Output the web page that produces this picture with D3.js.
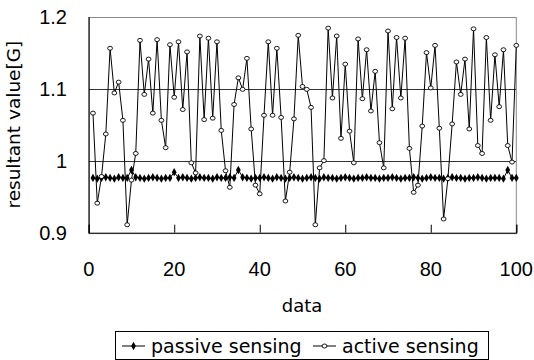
<!DOCTYPE html>
<html><head><meta charset="utf-8">
<script src="https://cdn.jsdelivr.net/npm/d3@7"></script>
<style>body{margin:0;background:#fff}svg{display:block}</style>
</head><body>
<script>
const xValues = d3.range(1, 101);
const activeSensing = [1.066,0.941,0.978,1.037,1.156,1.094,1.109,1.056,0.911,0.973,
1.010,1.167,1.092,1.141,1.066,1.168,1.056,1.018,1.161,1.088,
1.165,1.071,1.151,0.997,0.983,1.173,1.057,1.170,1.059,1.165,
1.042,0.986,0.963,1.078,1.115,1.099,1.142,1.044,0.966,0.954,
1.063,1.165,1.063,1.156,1.060,0.944,0.984,1.058,1.174,1.103,
1.099,1.074,0.911,0.990,1.000,1.184,1.087,1.173,1.031,1.134,
1.041,0.997,1.169,1.086,1.154,1.069,1.124,1.025,0.990,1.180,
1.072,1.171,1.087,1.170,1.017,0.956,0.966,1.048,1.150,1.101,
1.160,1.045,0.919,0.975,1.051,1.137,1.092,1.141,1.044,1.183,
1.021,1.010,1.171,1.056,1.147,1.075,1.154,1.021,0.998,1.160];
const passiveSensing = [0.976,0.975,0.976,0.977,0.976,0.975,0.977,0.976,0.976,0.987,
0.977,0.976,0.975,0.976,0.977,0.976,0.975,0.976,0.976,0.984,
0.976,0.977,0.976,0.975,0.976,0.977,0.976,0.976,0.975,0.977,
0.976,0.976,0.977,0.976,0.987,0.977,0.976,0.975,0.976,0.976,
0.977,0.976,0.975,0.977,0.976,0.975,0.976,0.977,0.976,0.975,
0.976,0.977,0.976,0.975,0.977,0.976,0.976,0.975,0.976,0.977,
0.976,0.975,0.976,0.976,0.977,0.976,0.976,0.975,0.976,0.976,
0.977,0.976,0.975,0.976,0.976,0.977,0.976,0.975,0.976,0.977,
0.976,0.976,0.975,0.976,0.977,0.976,0.976,0.975,0.976,0.976,
0.977,0.976,0.975,0.976,0.976,0.976,0.975,0.987,0.976,0.976];
const xTicks = [0,20,40,60,80,100];
const yTicks = [0.9,1.0,1.1,1.2];
const yTickLabels = ["0.9","1","1.1","1.2"];
const seriesNames = ["passive sensing","active sensing"];

const W=534,H=360;
const svg=d3.select("body").append("svg").attr("width",W).attr("height",H);
const x=d3.scaleLinear().domain([0,100]).range([88.7,516.3]);
const y=d3.scaleLinear().domain([0.9,1.2]).range([232.7,16.6]);
const numFont="'Liberation Sans', Arial, sans-serif";
const txtFont="'DejaVu Sans', sans-serif";

// grid lines
svg.append("g").selectAll("line").data([1.0,1.1]).join("line")
  .attr("x1",x(0)).attr("x2",x(100)).attr("y1",d=>Math.round(y(d))+0.5).attr("y2",d=>Math.round(y(d))+0.5)
  .attr("stroke","#333").attr("stroke-width",1);
// frame top/right
svg.append("rect").attr("x",x(0)).attr("y",Math.round(y(1.2))+0.5).attr("width",x(100)-x(0)).attr("height",y(0.9)-y(1.2))
  .attr("fill","none").attr("stroke","#888").attr("stroke-width",1);

// axes
const xAxis=d3.axisBottom(x).tickValues(xTicks).tickSize(-8).tickFormat("");
svg.append("g").attr("transform",`translate(0,${y(0.9)})`).call(xAxis)
  .call(g=>g.selectAll("line").attr("stroke","#000"))
  .call(g=>g.select(".domain").attr("stroke","#000"));
svg.append("g").selectAll("text").data(xTicks).join("text")
  .attr("x",d=>x(d)).attr("y",276).attr("text-anchor","middle")
  .attr("font-family",numFont).attr("font-size",20).text(d=>d);

const yAxis=d3.axisLeft(y).tickValues(yTicks).tickSize(0).tickFormat("");
svg.append("g").attr("transform",`translate(${x(0)},0)`).call(yAxis)
  .call(g=>g.select(".domain").attr("stroke","#000"));
svg.append("g").selectAll("text").data(yTicks).join("text")
  .attr("x",67).attr("y",d=>y(d)+7).attr("text-anchor","end")
  .attr("font-family",numFont).attr("font-size",20).text((d,i)=>yTickLabels[i]);

// axis titles
svg.append("text").attr("x",302).attr("y",312).attr("text-anchor","middle")
  .attr("font-family",txtFont).attr("font-size",18).text("data");
svg.append("text").attr("transform",`translate(20,${(y(0.9)+y(1.2))/2}) rotate(-90)`)
  .attr("text-anchor","middle").attr("font-family",txtFont).attr("font-size",18.5).text("resultant value[G]");

// series
const line=d3.line().x((d,i)=>x(xValues[i])).y(d=>y(d));
svg.append("path").datum(passiveSensing).attr("d",line).attr("fill","none").attr("stroke","#000").attr("stroke-width",1);
svg.append("path").datum(activeSensing).attr("d",line).attr("fill","none").attr("stroke","#000").attr("stroke-width",1);
const diamond=d3.symbol().type(d3.symbolDiamond).size(20);
svg.append("g").selectAll("path").data(passiveSensing).join("path")
  .attr("transform",(d,i)=>`translate(${x(xValues[i])},${y(d)})`).attr("d",diamond).attr("fill","#000");
svg.append("g").selectAll("ellipse").data(activeSensing).join("ellipse")
  .attr("cx",(d,i)=>x(xValues[i])).attr("cy",d=>y(d)).attr("rx",2.4).attr("ry",2)
  .attr("fill","#fff").attr("stroke","#000").attr("stroke-width",0.9);

// legend
const lg=svg.append("g");
lg.append("rect").attr("x",115.5).attr("y",331.5).attr("width",373).attr("height",28).attr("fill","#fff").attr("stroke","#000");
const items=[{x0:122,tx:151,name:seriesNames[0],type:"d"},{x0:313,tx:342,name:seriesNames[1],type:"c"}];
items.forEach(it=>{
  lg.append("line").attr("x1",it.x0).attr("x2",it.x0+23).attr("y1",346).attr("y2",346).attr("stroke","#000");
  if(it.type==="d") lg.append("path").attr("transform",`translate(${it.x0+11.5},346)`).attr("d",diamond).attr("fill","#000");
  else lg.append("ellipse").attr("cx",it.x0+11.5).attr("cy",346).attr("rx",2.4).attr("ry",2).attr("fill","#fff").attr("stroke","#000").attr("stroke-width",0.9);
  lg.append("text").attr("x",it.tx).attr("y",353).attr("font-family",txtFont).attr("font-size",19).text(it.name);
});
</script>
</body></html>
